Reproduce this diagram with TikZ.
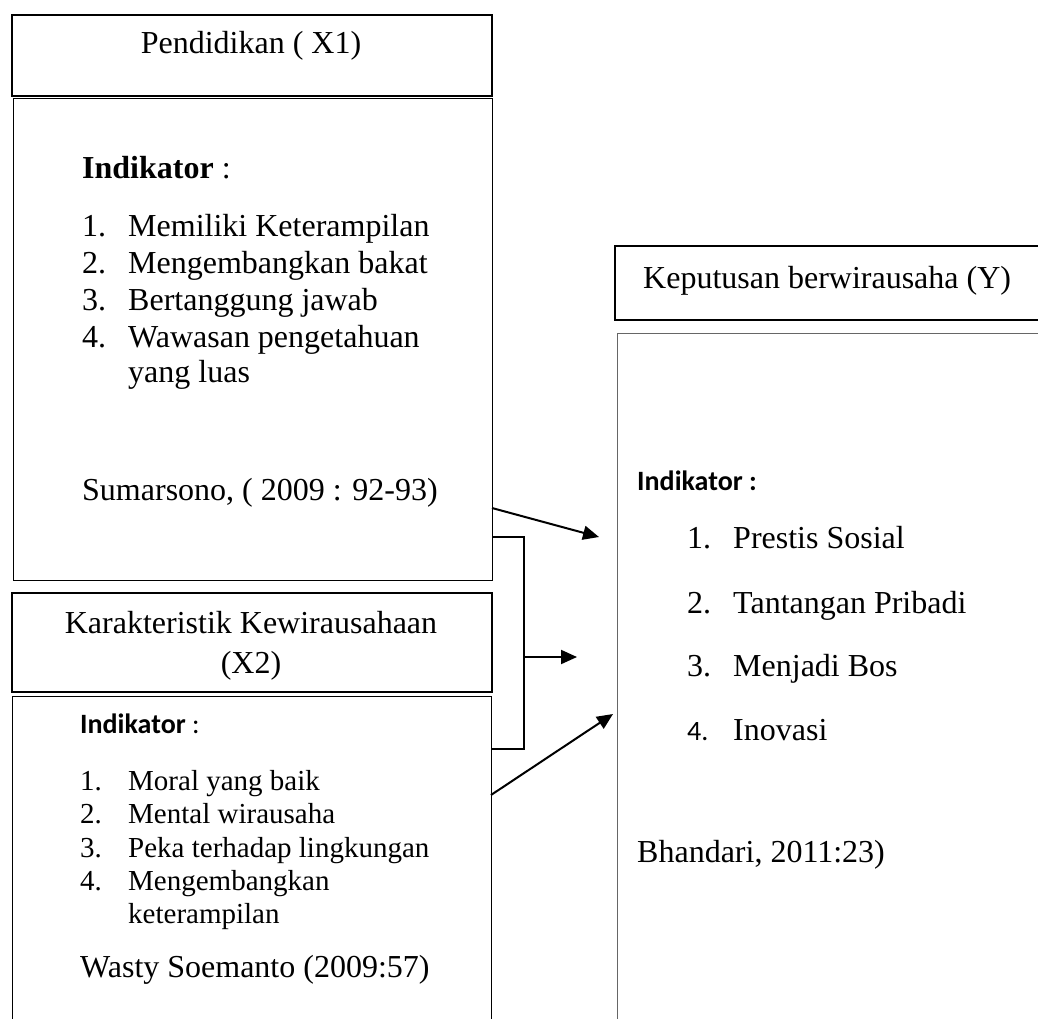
\documentclass[tikz,border=0pt]{standalone}
\usepackage{fontspec}
\setmainfont{Liberation Serif}
\newfontfamily\calibri{Carlito}
\usetikzlibrary{arrows.meta}
\begin{document}
\begin{tikzpicture}[x=1pt,y=-1pt,
  hdr/.style={draw, line width=2pt, inner sep=0pt, anchor=north west},
  bodybox/.style={draw, line width=1.4pt, inner sep=0pt, anchor=north west},
  txt/.style={anchor=base west, inner sep=0pt, font=\fontsize{32}{37}\selectfont},
  ctxt/.style={anchor=base, inner sep=0pt, font=\fontsize{32}{37}\selectfont},
  smalltxt/.style={anchor=base west, inner sep=0pt, font=\fontsize{29}{33}\selectfont},
  ind/.style={anchor=base west, inner sep=0pt, font=\calibri\fontsize{28}{33}\selectfont},
  arr/.style={line width=2pt, -{Triangle[length=16pt,width=14pt]}},
  lnk/.style={line width=2pt}]
\useasboundingbox (0,0) rectangle (1038,1018);
\fill[white] (0,0) rectangle (1038,1018);
\clip (0,0) rectangle (1038,1018);

% boxes
\node[hdr, minimum width=480pt, minimum height=81pt] (hdrA) at (11,14) {};
\node[bodybox, minimum width=479pt, minimum height=482pt] (bodyA) at (13,98) {};
\node[hdr, minimum width=480pt, minimum height=99pt] (hdrB) at (11,592) {};
\node[bodybox, minimum width=479pt, minimum height=360pt] (bodyB) at (12,696) {};
\node[hdr, minimum width=460pt, minimum height=74pt] (hdrY) at (614,245) {};
\node[bodybox, draw=black!60, minimum width=460pt, minimum height=720pt] (bodyY) at (617,333) {};

% X1 texts
\node[ctxt] (tA) at (251,53) {Pendidikan ( X1)};
\node[txt] (indA) at (82,178) {\textbf{Indikator} :};
\node[txt] (nA1) at (82,236) {1.};
\node[txt] (iA1) at (128,236) {Memiliki Keterampilan};
\node[txt] (nA2) at (82,273) {2.};
\node[txt] (iA2) at (128,273) {Mengembangkan bakat};
\node[txt] (nA3) at (82,310) {3.};
\node[txt] (iA3) at (128,310) {Bertanggung jawab};
\node[txt] (nA4) at (82,347) {4.};
\node[txt] (iA4) at (128,347) {Wawasan pengetahuan};
\node[txt] (iA4b) at (128,382) {yang luas};
\node[txt] (srcA) at (82,500) {Sumarsono, ( 2009 : 92-93)};

% X2 texts
\node[ctxt] (tB1) at (251,633) {Karakteristik Kewirausahaan};
\node[ctxt] (tB2) at (251,673) {(X2)};
\node[ind] (indB) at (80,733) {\textbf{Indikator} :};
\node[smalltxt] (nB1) at (80,790) {1.};
\node[smalltxt] (iB1) at (128,790) {Moral yang baik};
\node[smalltxt] (nB2) at (80,823) {2.};
\node[smalltxt] (iB2) at (128,823) {Mental wirausaha};
\node[smalltxt] (nB3) at (80,857) {3.};
\node[smalltxt] (iB3) at (128,857) {Peka terhadap lingkungan};
\node[smalltxt] (nB4) at (80,890) {4.};
\node[smalltxt] (iB4) at (128,890) {Mengembangkan};
\node[smalltxt] (iB4b) at (128,923) {keterampilan};
\node[txt] (srcB) at (80,977) {Wasty Soemanto (2009:57)};

% Y texts
\node[txt] (tY) at (643,288) {Keputusan berwirausaha (Y)};
\node[ind] (indY) at (637,490) {\textbf{Indikator :}};
\node[txt] (nY1) at (687,548) {1.};
\node[txt] (iY1) at (733,548) {Prestis Sosial};
\node[txt] (nY2) at (687,613) {2.};
\node[txt] (iY2) at (733,613) {Tantangan Pribadi};
\node[txt] (nY3) at (687,676) {3.};
\node[txt] (iY3) at (733,676) {Menjadi Bos};
\node[ind] (nY4) at (687,740) {4.};
\node[txt] (iY4) at (733,740) {Inovasi};
\node[txt] (srcY) at (637,862) {Bhandari, 2011:23)};

% connector points
\coordinate (a1s) at (492,508);
\coordinate (a1e) at (599,537);
\coordinate (k1) at (492,537);
\coordinate (k2) at (524,537);
\coordinate (k3) at (524,749);
\coordinate (k4) at (492,749);
\coordinate (m1) at (524,657);
\coordinate (m2) at (577,657);
\coordinate (a3s) at (491,795);
\coordinate (a3e) at (613,714);

\draw[arr] (a1s) -- (a1e);
\draw[lnk] (k1) -- (k2) -- (k3) -- (k4);
\draw[arr] (m1) -- (m2);
\draw[arr] (a3s) -- (a3e);
\end{tikzpicture}
\end{document}
